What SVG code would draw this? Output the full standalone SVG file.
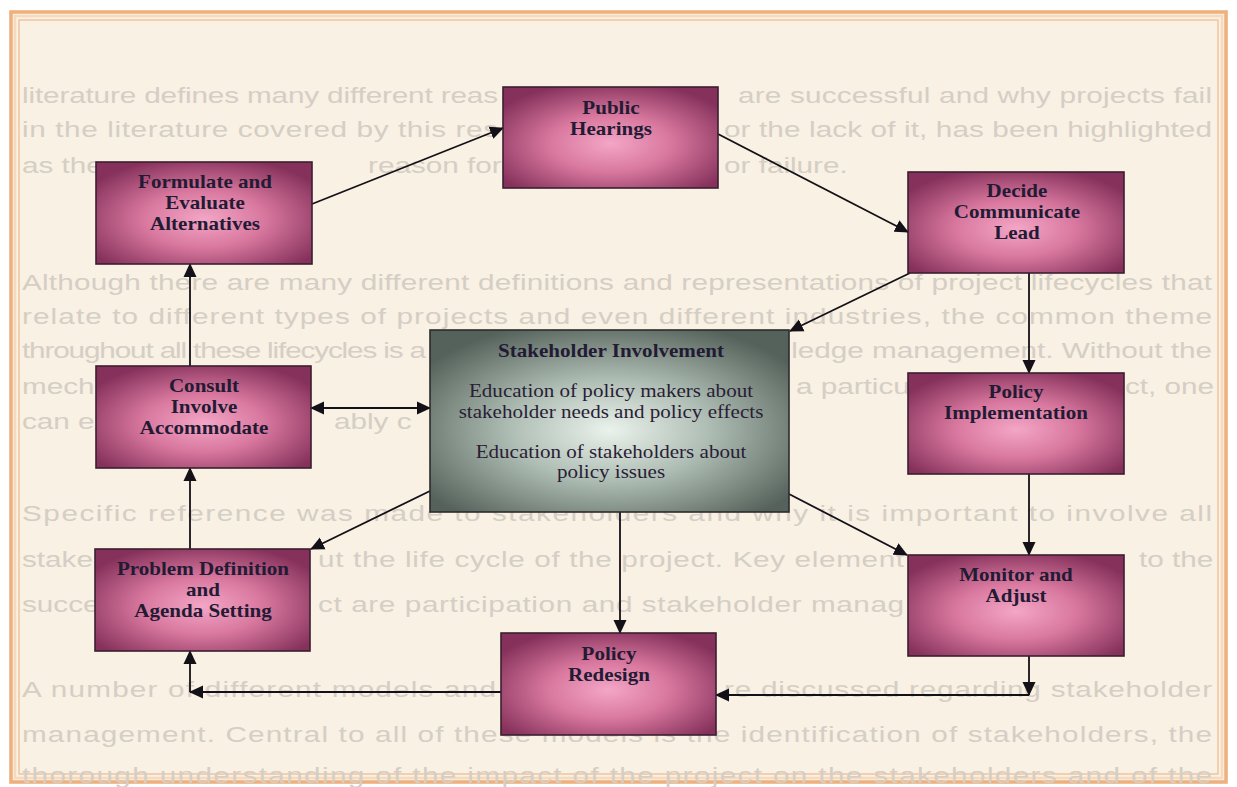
<svg xmlns="http://www.w3.org/2000/svg" width="1237" height="787" viewBox="0 0 1237 787">
  <defs>
    <radialGradient id="gPink" cx="0.5" cy="0.56" r="0.62">
      <stop offset="0" stop-color="#f3a6c6"/>
      <stop offset="0.45" stop-color="#d9789f"/>
      <stop offset="1" stop-color="#85315b"/>
    </radialGradient>
    <radialGradient id="gSage" cx="0.5" cy="0.55" r="0.62">
      <stop offset="0" stop-color="#eaf2ec"/>
      <stop offset="0.45" stop-color="#aebdb3"/>
      <stop offset="1" stop-color="#55625b"/>
    </radialGradient>
    <marker id="ah" viewBox="0 0 14 14" markerWidth="14" markerHeight="14" refX="13" refY="7" orient="auto-start-reverse" markerUnits="userSpaceOnUse">
      <path d="M0,0.5 L14,7 L0,13.5 Z" fill="#141018"/>
    </marker>
  </defs>
  <style>
    .bgtext { font-family: "Liberation Sans", Arial, sans-serif; font-size: 22px; fill: #d5cec4; }
    .box { fill: url(#gPink); stroke: #3a2030; stroke-width: 1.6; }
    .core { fill: url(#gSage); stroke: #2b2b2b; stroke-width: 1.6; }
    .lbl { font-family: "Liberation Serif", "Times New Roman", serif; font-size: 18px; font-weight: bold; fill: #231a34; text-anchor: middle; }
    .body { font-family: "Liberation Serif", "Times New Roman", serif; font-size: 18px; fill: #2a1d36; text-anchor: middle; }
    .wire { fill: none; stroke: #141018; stroke-width: 1.8; }
  </style>

  <!-- page and frame -->
  <rect x="0" y="0" width="1237" height="787" fill="#ffffff"/>
  <rect x="9" y="10" width="1219" height="774" fill="#f8f1e4"/>
  <rect x="11" y="12" width="1215" height="770" fill="none" stroke="#eeb07e" stroke-width="3.5"/>
  <rect x="15" y="16" width="1207" height="762" fill="none" stroke="#f7d9bd" stroke-width="2.5"/>
  <rect x="19" y="20" width="1199" height="754" fill="none" stroke="#f1be92" stroke-width="1.3"/>

  <!-- printed text showing through the page, only where the boxes leave it visible;
       drawn in a horizontally widened space (x values are page x / 1.35) -->
  <g id="page-text" class="bgtext" transform="scale(1.35 1)">
    <text x="16.3" y="103" textLength="352.6" lengthAdjust="spacing">literature defines many different reas</text>
    <text x="546.7" y="103" textLength="351.1" lengthAdjust="spacing">are successful and why projects fail</text>
    <text x="16.3" y="137" textLength="352.6" lengthAdjust="spacing">in the literature covered by this res</text>
    <text x="536.3" y="137" textLength="361.5" lengthAdjust="spacing">or the lack of it, has been highlighted</text>
    <text x="16.3" y="173">as the</text>
    <text x="272.6" y="173">reason for</text>
    <text x="536.3" y="173">or failure.</text>
    <text x="16.3" y="290" textLength="881.5" lengthAdjust="spacing">Although there are many different definitions and representations of project lifecycles that</text>
    <text x="16.3" y="324" textLength="881.5" lengthAdjust="spacing">relate to different types of projects and even different industries, the common theme</text>
    <text x="16.3" y="358" textLength="299.3" lengthAdjust="spacing">throughout all these lifecycles is a</text>
    <text x="897.8" y="358" text-anchor="end">ledge management. Without the</text>
    <text x="16.3" y="394">mechan</text>
    <text x="589.6" y="394">a particul</text>
    <text x="833.3" y="394">ct, one</text>
    <text x="16.3" y="429">can ex</text>
    <text x="247.4" y="429">ably c</text>
    <text x="16.3" y="521" textLength="881.5" lengthAdjust="spacing">Specific reference was made to stakeholders and why it is important to involve all</text>
    <text x="16.3" y="567">stake</text>
    <text x="235.6" y="567" textLength="434.1" lengthAdjust="spacing">ut the life cycle of the project. Key element</text>
    <text x="843.7" y="567">to the</text>
    <text x="16.3" y="612">succe</text>
    <text x="235.6" y="612" textLength="434.1" lengthAdjust="spacing">ct are participation and stakeholder manag</text>
    <text x="16.3" y="697" textLength="351.1" lengthAdjust="spacing">A number of different models and</text>
    <text x="536.3" y="697" textLength="361.5" lengthAdjust="spacing">re discussed regarding stakeholder</text>
    <text x="16.3" y="742" textLength="881.5" lengthAdjust="spacing">management. Central to all of these models is the identification of stakeholders, the</text>
    <text x="16.3" y="783" textLength="881.5" lengthAdjust="spacing">thorough understanding of the impact of the project on the stakeholders and of the</text>
  </g>

  <!-- connectors -->
  <g id="connectors" class="wire">
    <path d="M312,204 L503,128" marker-end="url(#ah)"/>
    <path d="M718,134 L908,232" marker-end="url(#ah)"/>
    <path d="M1029,273 L1029,373" marker-end="url(#ah)"/>
    <path d="M910,273 L790,331" marker-end="url(#ah)"/>
    <path d="M1029,474 L1029,555" marker-end="url(#ah)"/>
    <path d="M1029,656 L1029,695" marker-end="url(#ah)"/>
    <path d="M1029,695 L716,695" marker-end="url(#ah)"/>
    <path d="M501,692 L190,692" marker-end="url(#ah)"/>
    <path d="M190,692 L190,651" marker-end="url(#ah)"/>
    <path d="M620,512 L620,633" marker-end="url(#ah)"/>
    <path d="M430,491 L311,549" marker-end="url(#ah)"/>
    <path d="M789,494 L907,555" marker-end="url(#ah)"/>
    <path d="M311,408 L430,408" marker-start="url(#ah)" marker-end="url(#ah)"/>
    <path d="M190,549 L190,468" marker-end="url(#ah)"/>
    <path d="M190,366 L190,264" marker-end="url(#ah)"/>
  </g>

  <!-- nodes -->
  <g id="public-hearings">
    <rect class="box" x="503" y="87" width="215" height="101"/>
    <g transform="translate(611 0) scale(1.17 1)">
      <text class="lbl" x="0" y="114">Public</text>
      <text class="lbl" x="0" y="135">Hearings</text>
    </g>
  </g>

  <g id="formulate-evaluate">
    <rect class="box" x="96" y="162" width="216" height="102"/>
    <g transform="translate(205 0) scale(1.17 1)">
      <text class="lbl" x="0" y="188">Formulate and</text>
      <text class="lbl" x="0" y="209">Evaluate</text>
      <text class="lbl" x="0" y="230">Alternatives</text>
    </g>
  </g>

  <g id="decide-communicate-lead">
    <rect class="box" x="908" y="172" width="216" height="101"/>
    <g transform="translate(1017 0) scale(1.17 1)">
      <text class="lbl" x="0" y="197">Decide</text>
      <text class="lbl" x="0" y="218">Communicate</text>
      <text class="lbl" x="0" y="239">Lead</text>
    </g>
  </g>

  <g id="stakeholder-involvement">
    <rect class="core" x="430" y="330" width="359" height="182"/>
    <g transform="translate(611 0) scale(1.17 1)">
      <text class="lbl" x="0" y="357">Stakeholder Involvement</text>
      <text class="body" x="0" y="397">Education of policy makers about</text>
      <text class="body" x="0" y="418">stakeholder needs and policy effects</text>
      <text class="body" x="0" y="458">Education of stakeholders about</text>
      <text class="body" x="0" y="478">policy issues</text>
    </g>
  </g>

  <g id="consult-involve">
    <rect class="box" x="96" y="366" width="215" height="102"/>
    <g transform="translate(204 0) scale(1.17 1)">
      <text class="lbl" x="0" y="392">Consult</text>
      <text class="lbl" x="0" y="413">Involve</text>
      <text class="lbl" x="0" y="434">Accommodate</text>
    </g>
  </g>

  <g id="policy-implementation">
    <rect class="box" x="908" y="373" width="216" height="101"/>
    <g transform="translate(1016 0) scale(1.17 1)">
      <text class="lbl" x="0" y="398">Policy</text>
      <text class="lbl" x="0" y="419">Implementation</text>
    </g>
  </g>

  <g id="problem-definition">
    <rect class="box" x="95" y="549" width="215" height="102"/>
    <g transform="translate(203 0) scale(1.17 1)">
      <text class="lbl" x="0" y="575">Problem Definition</text>
      <text class="lbl" x="0" y="596">and</text>
      <text class="lbl" x="0" y="617">Agenda Setting</text>
    </g>
  </g>

  <g id="monitor-adjust">
    <rect class="box" x="908" y="555" width="216" height="101"/>
    <g transform="translate(1016 0) scale(1.17 1)">
      <text class="lbl" x="0" y="581">Monitor and</text>
      <text class="lbl" x="0" y="602">Adjust</text>
    </g>
  </g>

  <g id="policy-redesign">
    <rect class="box" x="501" y="633" width="215" height="102"/>
    <g transform="translate(609 0) scale(1.17 1)">
      <text class="lbl" x="0" y="660">Policy</text>
      <text class="lbl" x="0" y="681">Redesign</text>
    </g>
  </g>
</svg>
